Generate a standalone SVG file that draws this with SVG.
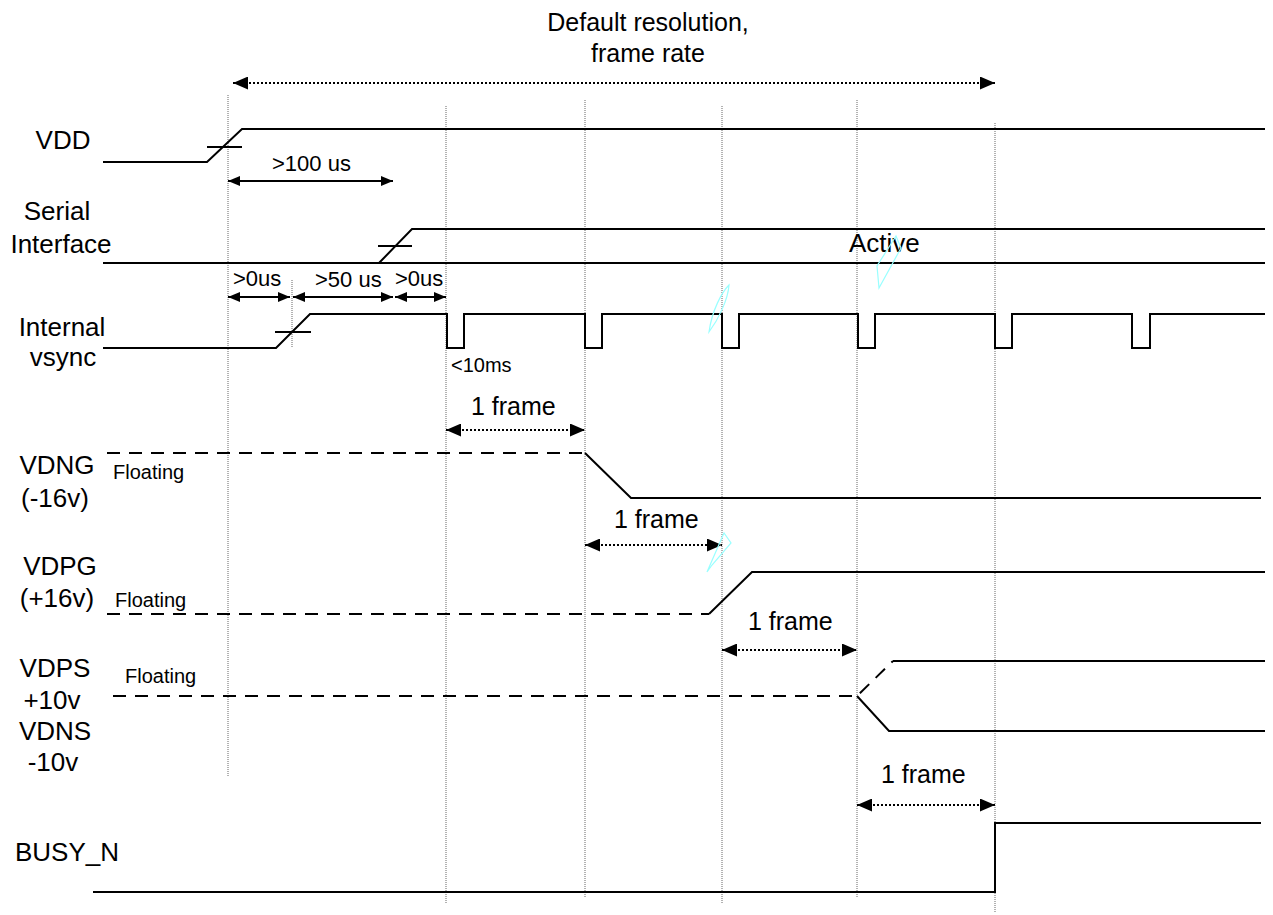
<svg xmlns="http://www.w3.org/2000/svg" width="1273" height="915" viewBox="0 0 1273 915">
<style>
text{font-family:"Liberation Sans",Arial,sans-serif;fill:#000}
.lbl{font-size:26px;text-anchor:middle}
.big{font-size:26px}
.ttl{font-size:25px;text-anchor:middle}
.sm{font-size:22px}
.fl{font-size:20px}
.fr{font-size:25px}
.sig{fill:none;stroke:#000;stroke-width:2}
.dash{fill:none;stroke:#000;stroke-width:2;stroke-dasharray:13 9}
.guide{fill:none;stroke:#666;stroke-width:1;stroke-dasharray:1 1}
.arr{fill:none;stroke:#000;stroke-width:2;marker-start:url(#ah);marker-end:url(#ah)}
.darr{fill:none;stroke:#000;stroke-width:2;stroke-dasharray:2 2;marker-start:url(#dh);marker-end:url(#dh)}
.cy{fill:none;stroke:#9ff;stroke-width:1.2}
</style>
<defs>
<marker id="ah" markerUnits="userSpaceOnUse" markerWidth="12" markerHeight="10" refX="12" refY="5" orient="auto-start-reverse"><path d="M0,0 L12,5 L0,10 z" fill="#000"/></marker>
<marker id="dh" markerUnits="userSpaceOnUse" markerWidth="15" markerHeight="13" refX="15" refY="6.5" orient="auto-start-reverse"><path d="M0,0 L15,6.5 L0,13 z" fill="#000"/></marker>
</defs>
<rect width="1273" height="915" fill="#fff"/>

<g id="guides">
<path class="guide" d="M228,95 V777 M292,280 V348 M446,106 V903 M585,100 V898 M722,106 V903 M857,100 V898 M995,123 V913"/>
</g>

<g id="title">
<text class="ttl" x="648" y="31">Default resolution,</text>
<text class="ttl" x="648" y="62">frame rate</text>
</g>

<g id="sig-vdd">
<text class="lbl" x="63" y="149">VDD</text>
<path class="sig" d="M103,162 H207 L242,129 H1265 M207,147 H242"/>
</g>

<g id="sig-serial">
<text class="lbl" x="57" y="220">Serial</text>
<text class="lbl" x="61" y="253">Interface</text>
<path class="sig" d="M103,263 H1265 M379,263 L412,229 H1265 M378,246 H412"/>
<text class="big" x="849" y="252">Active</text>
</g>

<g id="sig-vsync">
<text class="lbl" x="62" y="336">Internal</text>
<text class="lbl" x="63" y="366">vsync</text>
<path class="sig" d="M103,348 H276 L310,314 H447 V348 H464 V314 H585 V348 H602 V314 H722 V348 H739 V314 H858 V348 H875 V314 H995 V348 H1012 V314 H1132 V348 H1150 V314 H1265 M275,332 H311"/>
<text class="sm" x="451" y="372" style="font-size:20px">&lt;10ms</text>
</g>

<g id="sig-vdng">
<text class="lbl" x="57" y="474">VDNG</text>
<text class="lbl" x="55" y="507">(-16v)</text>
<text class="fl" x="113" y="479">Floating</text>
<path class="dash" d="M107,453 H585"/>
<path class="sig" d="M585,453 L631,498 H1261"/>
</g>

<g id="sig-vdpg">
<text class="lbl" x="60" y="575">VDPG</text>
<text class="lbl" x="57" y="607">(+16v)</text>
<text class="fl" x="115" y="607">Floating</text>
<path class="dash" d="M107,614 H709"/>
<path class="sig" d="M709,614 L752,572 H1265"/>
</g>

<g id="sig-vdps-vdns">
<text class="lbl" x="55" y="677">VDPS</text>
<text class="lbl" x="52" y="709">+10v</text>
<text class="lbl" x="55" y="740">VDNS</text>
<text class="lbl" x="53" y="771">-10v</text>
<text class="fl" x="125" y="683">Floating</text>
<path class="dash" d="M113,696 H857 L893,661"/>
<path class="sig" d="M893,661 H1265 M857,696 L889,731 H1265"/>
</g>

<g id="sig-busy">
<text class="lbl" x="67" y="861">BUSY_N</text>
<path class="sig" d="M93,892 H995 V823 H1261"/>
</g>

<g id="connectors">
<path class="darr" d="M233,83 H995"/>
<path class="arr" d="M228,181 H393"/>
<path class="arr" d="M228,297 H290"/>
<path class="arr" d="M293,297 H393"/>
<path class="arr" d="M395,297 H446"/>
<path class="darr" d="M446,430 H585"/>
<path class="darr" d="M585,545 H722"/>
<path class="darr" d="M722,650 H857"/>
<path class="darr" d="M857,805 H995"/>
</g>

<g id="timing-labels">
<text class="sm" x="272" y="171">&gt;100 us</text>
<text class="sm" x="233" y="286">&gt;0us</text>
<text class="sm" x="315" y="287">&gt;50 us</text>
<text class="sm" x="395" y="286">&gt;0us</text>
<text class="fr" x="471" y="415">1 frame</text>
<text class="fr" x="614" y="528">1 frame</text>
<text class="fr" x="748" y="630">1 frame</text>
<text class="fr" x="881" y="783">1 frame</text>
</g>

<g id="scribbles">
<path class="cy" d="M709,332 C712,310 722,292 729,285 C728,300 718,320 709,332 z"/>
<path class="cy" d="M879,288 L877,266 L896,236 L901,248 z"/>
<path class="cy" d="M707,572 L724,533 L731,543 L712,565 z"/>
</g>
</svg>
